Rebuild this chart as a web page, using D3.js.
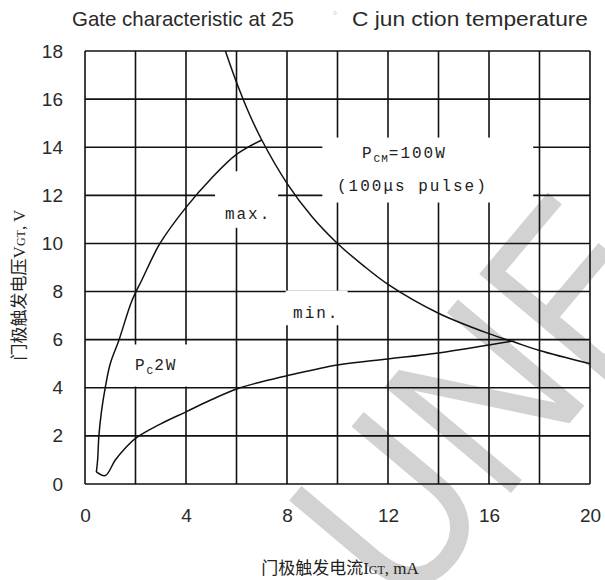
<!DOCTYPE html>
<html>
<head>
<meta charset="utf-8">
<script src="https://cdn.jsdelivr.net/npm/d3@7"></script>
<style>
  body { margin: 0; background: #fff; }
  svg { display: block; }
</style>
</head>
<body>
<div id="viz"></div>
<script>
// tick values
const xTicks = [0, 4, 8, 12, 16, 20]
const yTicks = [0, 2, 4, 6, 8, 10, 12, 14, 16, 18]
const gridX = [0, 2, 4, 6, 8, 10, 12, 14, 16, 18, 20]
const gridY = [0, 2, 4, 6, 8, 10, 12, 14, 16, 18]

// curves (IGT mA, VGT V)
const pgmCurve = [[5.56, 18], [6, 16.7], [6.5, 15.4], [7, 14.3], [8, 12.5], [9, 11.1], [10, 10],
  [11, 9.1], [12, 8.3], [14, 7.1], [16, 6.25], [17, 5.9], [18, 5.55], [20, 5]]
const maxCurve = [[0.45, 0.5], [0.5, 1], [0.55, 2], [0.65, 3], [0.8, 4], [1.0, 5], [1.35, 6],
  [1.85, 7.6], [2.26, 8.5], [2.97, 10], [4, 11.5], [5, 12.7], [6, 13.7], [7.0, 14.3]]
const minCurve = [[0.45, 0.5], [0.8, 0.35], [1.2, 1.0], [1.6, 1.5], [2, 1.9], [3, 2.5], [4, 3.0],
  [5, 3.5], [6, 3.95], [7, 4.25], [8, 4.5], [10, 4.95], [12, 5.2], [14, 5.45], [16, 5.78], [17, 5.95]]

// places where the grid is broken for the labels
const gridGaps = [
  { x0: 5.15, x1: 7.65, y0: 10.65, y1: 13.0 },
  { x0: 9.4, x1: 17.75, y0: 11.7, y1: 14.4 },
  { x0: 7.95, x1: 10.4, y0: 6.6, y1: 8.04 },
  { x0: 1.9, x1: 4.1, y0: 4.05, y1: 5.8 }
]

// annotations: text, subscript, rest, anchor in data units
const notes = [
  { main: "max.", sub: "", rest: "", x: 5.54, y: 11.0 },
  { main: "P", sub: "CM", rest: "=100W", x: 10.97, y: 13.55 },
  { main: "(100μs pulse)", sub: "", rest: "", x: 9.98, y: 12.2 },
  { main: "min.", sub: "", rest: "", x: 8.24, y: 6.9 },
  { main: "P", sub: "C", rest: "2W", x: 1.98, y: 4.74 }
]

const width = 605
const height = 580

const svg = d3.select("#viz").append("svg")
  .attr("width", width)
  .attr("height", height)

const x = d3.scaleLinear().domain([0, 20]).range([85, 590])
const y = d3.scaleLinear().domain([0, 18]).range([484, 51])

// watermark
svg.append("text")
  .attr("transform", "translate(480,400) rotate(-50) scale(0.85,1)")
  .attr("text-anchor", "middle")
  .attr("dominant-baseline", "central")
  .attr("font-family", "Liberation Sans")
  .attr("font-size", 240)
  .attr("fill", "#d2d2d2")
  .text("UNE")

// grid
const grid = svg.append("g").attr("stroke", "#111").attr("stroke-width", 1.6)
grid.selectAll(".v").data(gridX).enter().append("line")
  .attr("x1", d => x(d)).attr("x2", d => x(d))
  .attr("y1", y(18)).attr("y2", y(0))
grid.selectAll(".h").data(gridY).enter().append("line")
  .attr("x1", x(0)).attr("x2", x(20))
  .attr("y1", d => y(d)).attr("y2", d => y(d))

svg.selectAll(".gap").data(gridGaps).enter().append("rect")
  .attr("x", d => x(d.x0)).attr("width", d => x(d.x1) - x(d.x0))
  .attr("y", d => y(d.y1)).attr("height", d => y(d.y0) - y(d.y1))
  .attr("fill", "#fff")

// curves
const line = d3.line().x(d => x(d[0])).y(d => y(d[1])).curve(d3.curveCatmullRom.alpha(0.5))
svg.selectAll(".curve").data([pgmCurve, maxCurve, minCurve]).enter().append("path")
  .attr("d", line)
  .attr("fill", "none")
  .attr("stroke", "#111")
  .attr("stroke-width", 1.5)

// axes
svg.append("g")
  .attr("transform", `translate(0,${y(0)})`)
  .call(d3.axisBottom(x).tickValues(xTicks).tickSize(0).tickPadding(25))
svg.append("g")
  .attr("transform", `translate(${x(0)},0)`)
  .call(d3.axisLeft(y).tickValues(yTicks).tickSize(0).tickPadding(22))
svg.selectAll(".domain").remove()
svg.selectAll(".tick text")
  .attr("font-family", "Liberation Sans")
  .attr("font-size", 19)
  .attr("fill", "#2a2a2a")

// annotations
const noteText = svg.selectAll(".note").data(notes).enter().append("text")
  .attr("x", d => x(d.x)).attr("y", d => y(d.y))
  .attr("font-family", "Liberation Mono")
  .attr("font-size", 16)
  .attr("letter-spacing", 2)
  .attr("fill", "#222")
noteText.append("tspan").text(d => d.main)
noteText.append("tspan").attr("font-size", 11).attr("dy", 4).attr("letter-spacing", 1).text(d => d.sub)
noteText.append("tspan").attr("dy", d => d.sub ? -4 : 0).text(d => d.rest)

// title
const title = svg.append("text")
  .attr("y", 26)
  .attr("font-family", "Liberation Sans")
  .attr("font-size", 21)
  .attr("fill", "#2a2a2a")
title.append("tspan").attr("x", 72).attr("textLength", 222).attr("lengthAdjust", "spacingAndGlyphs")
  .text("Gate characteristic at 25")
title.append("tspan").attr("x", 333).attr("font-size", 10).attr("dy", -7).attr("fill", "#ccc").text("°")
title.append("tspan").attr("x", 352).attr("dy", 7).attr("textLength", 236).attr("lengthAdjust", "spacingAndGlyphs")
  .text("C jun ction temperature")

// axis labels
const yLab = svg.append("text")
  .attr("transform", "translate(25,285) rotate(-90)")
  .attr("text-anchor", "middle")
  .attr("font-size", 17)
  .attr("fill", "#222")
yLab.append("tspan").attr("font-family", "Noto Sans CJK SC").text("门极触发电压")
yLab.append("tspan").attr("font-family", "Liberation Serif").text("V")
yLab.append("tspan").attr("font-family", "Liberation Serif").attr("font-size", 12).text("GT")
yLab.append("tspan").attr("font-family", "Liberation Serif").text(", V")

const xLab = svg.append("text")
  .attr("x", 340).attr("y", 574)
  .attr("text-anchor", "middle")
  .attr("font-size", 17)
  .attr("fill", "#222")
xLab.append("tspan").attr("font-family", "Noto Sans CJK SC").text("门极触发电流")
xLab.append("tspan").attr("font-family", "Liberation Serif").text("I")
xLab.append("tspan").attr("font-family", "Liberation Serif").attr("font-size", 12).text("GT")
xLab.append("tspan").attr("font-family", "Liberation Serif").text(", mA")
</script>
</body>
</html>
